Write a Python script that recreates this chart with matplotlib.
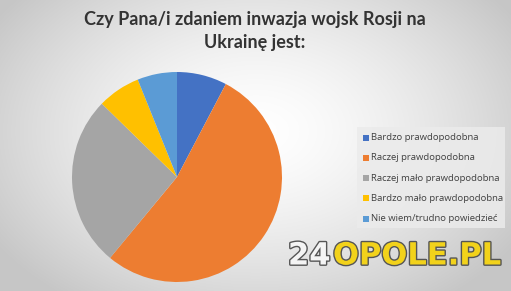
import numpy as np
import matplotlib.pyplot as plt
import matplotlib.patheffects as pe
from matplotlib.patches import Rectangle

# -------------------- Data --------------------
title = "Czy Pana/i zdaniem inwazja wojsk Rosji na\nUkrainę jest:"
labels = ["Bardzo prawdopodobna", "Raczej prawdopodobna", "Raczej mało prawdopodobna",
          "Bardzo mało prawdopodobna", "Nie wiem/trudno powiedzieć"]
values = [7.7, 53.3, 26.3, 6.6, 6.1]
colors = ["#4472c4", "#ed7d31", "#a5a5a5", "#ffc000", "#5b9bd5"]

W, H = 511, 291
fig = plt.figure(figsize=(W / 100, H / 100), dpi=100)

# -------------------- Background gradient --------------------
bg = fig.add_axes([0, 0, 1, 1])
yy, xx = np.mgrid[0:H, 0:W]
r = np.sqrt(((xx - W * 0.5) / (W * 0.6)) ** 2 + ((yy - H * 0.45) / (H * 0.72)) ** 2)
shade = 1.0 - 0.22 * np.clip(r, 0, 1) ** 1.5
bg.imshow(np.dstack([shade] * 3), extent=[0, W, H, 0], aspect="auto")
bg.set_xlim(0, W)
bg.set_ylim(H, 0)
bg.axis("off")

# -------------------- Pie --------------------
cx, cy, rad = 177, 177, 105
ax = fig.add_axes([(cx - rad) / W, 1 - (cy + rad) / H, 2 * rad / W, 2 * rad / H])
wedges, _ = ax.pie(values, colors=colors, startangle=90, counterclock=False,
                   wedgeprops=dict(linewidth=0))
ax.set_xlim(-1, 1)
ax.set_ylim(-1, 1)
ax.set_aspect("auto")
ax.axis("off")

# -------------------- Title --------------------
fig.text(255 / W, 1 - 31 / H, title, ha="center", va="center", fontsize=13,
         fontweight="bold", color="#333333", family="Lato", linespacing=1.45)

# -------------------- Legend --------------------
bg.add_patch(Rectangle((357, 127), 148, 101, facecolor="#ebebeb", edgecolor="none", alpha=0.85))
for i, (lab, col) in enumerate(zip(labels, colors)):
    y = 137.5 + i * 20.3
    bg.add_patch(Rectangle((363, y - 3), 6, 6, facecolor=col, edgecolor="none"))
    bg.text(371, y, lab, fontsize=6.8, color="#404040", va="center", ha="left", family="Open Sans")

# -------------------- Watermark --------------------
stroke = [pe.withStroke(linewidth=2.0, foreground="#555555")]
bg.text(288, 256, "24", fontsize=22, fontweight="bold", color="#f4f4f4", va="center",
        family="DejaVu Sans", path_effects=stroke)
bg.text(333, 256, "OPOLE.PL", fontsize=22, fontweight="bold", color="#f2d21b", va="center",
        family="DejaVu Sans", path_effects=stroke)

fig.savefig("out.png", dpi=100)
